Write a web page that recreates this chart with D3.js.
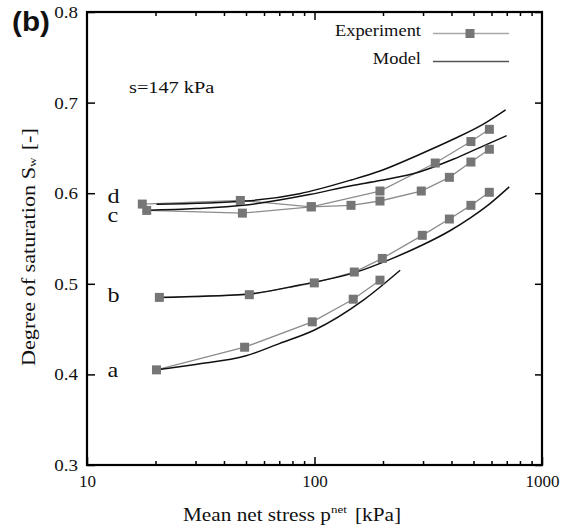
<!DOCTYPE html>
<html>
<head>
<meta charset="utf-8">
<script src="https://cdn.jsdelivr.net/npm/d3@7/dist/d3.min.js"></script>
<style>
body { margin: 0; background: #fff; }
svg { display: block; }
text { font-family: "Liberation Serif", "Times New Roman", serif; fill: #111; }
</style>
</head>
<body>
<div id="chart"></div>
<script>
// data: [p_net (kPa), S_w]
var expA = [[20.2, 0.405], [49.3, 0.430], [97.8, 0.458], [148, 0.483], [194, 0.504]];
var expB = [[20.8, 0.485], [51.7, 0.488], [99.8, 0.501], [149.6, 0.513], [198.6, 0.528],
            [297.7, 0.5535], [391.6, 0.5715], [487, 0.5866], [586.6, 0.601]];
var expC = [[18.3, 0.581], [48.2, 0.578], [96.8, 0.585], [144.7, 0.5866], [194, 0.5914],
            [294.6, 0.6024], [391.6, 0.6175], [487, 0.6344], [587, 0.6485]];
var expD = [[17.5, 0.588], [47.2, 0.592], [96.8, 0.585], [194, 0.6024], [339.5, 0.6333],
            [487, 0.657], [587, 0.6705]];

var modelA = [[20.2, 0.405], [30, 0.411], [50, 0.4205], [70, 0.434], [100, 0.449], [164, 0.482], [238, 0.515]];
var modelB = [[20.8, 0.485], [50, 0.4885], [86, 0.4987], [150, 0.5123], [215, 0.527], [298, 0.5428],
              [392, 0.5583], [488, 0.5734], [587, 0.588], [718, 0.607]];
var modelC = [[18.3, 0.581], [30, 0.583], [50, 0.587], [95, 0.5985], [145, 0.6083], [194, 0.614],
              [291, 0.6237], [407, 0.6374], [550, 0.652], [699, 0.6635]];
var modelD = [[20.2, 0.5877], [50, 0.5914], [86, 0.5995], [145, 0.6146], [194, 0.6245], [291, 0.643],
              [407, 0.6595], [550, 0.676], [692, 0.692]];

var curveLabels = [["d", 0.589], ["c", 0.568], ["b", 0.480], ["a", 0.397]];

var xMajor = [10, 100, 1000];
var xMinor = [20, 30, 40, 50, 60, 70, 80, 90, 200, 300, 400, 500, 600, 700, 800, 900];
var yMajor = [0.3, 0.4, 0.5, 0.6, 0.7, 0.8];

var serif = "'Liberation Serif', 'Times New Roman', serif";

var W = 575, H = 530;
var margin = {top: 12, right: 33, bottom: 65, left: 87},
    width_g = W - margin.left - margin.right,
    height_g = H - margin.top - margin.bottom;

var x = d3.scaleLog().domain([10, 1000]).range([0, width_g]);
var y = d3.scaleLinear().domain([0.3, 0.8]).range([height_g, 0]);

var svg = d3.select("#chart").append("svg")
    .attr("width", W)
    .attr("height", H);

var frg = svg.append("g")
    .attr("transform", "translate(" + margin.left + "," + margin.top + ")");

// axes (ticks point inward)
function styleAxis(g) {
    g.attr("font-family", serif);
    g.select(".domain").remove();
    g.selectAll("line").attr("stroke", "#000").attr("stroke-width", 1.5);
    g.selectAll("text").style("fill", "#111");
}

frg.append("g").attr("transform", "translate(0," + height_g + ")")
    .call(d3.axisBottom(x).tickValues(xMinor).tickSizeInner(-4).tickSizeOuter(0).tickFormat(""))
    .call(styleAxis);
frg.append("g").attr("transform", "translate(0," + height_g + ")")
    .call(d3.axisBottom(x).tickValues(xMajor).tickSizeInner(-8).tickSizeOuter(0)
        .tickPadding(10).tickFormat(d3.format("d")))
    .call(styleAxis)
    .attr("font-size", 17);

frg.append("g")
    .call(d3.axisTop(x).tickValues(xMinor).tickSizeInner(-4).tickSizeOuter(0).tickFormat(""))
    .call(styleAxis);
frg.append("g")
    .call(d3.axisTop(x).tickValues([100]).tickSizeInner(-8).tickSizeOuter(0).tickFormat(""))
    .call(styleAxis);

var yAxisG = frg.append("g")
    .call(d3.axisLeft(y).tickValues(yMajor).tickSizeInner(-8).tickSizeOuter(0)
        .tickPadding(8).tickFormat(d3.format(".1f")))
    .call(styleAxis)
    .attr("font-size", 17);
yAxisG.selectAll(".tick text").attr("transform", "scale(1.12,1)");

frg.append("g").attr("transform", "translate(" + width_g + ",0)")
    .call(d3.axisRight(y).tickValues(yMajor).tickSizeInner(-7).tickSizeOuter(0).tickFormat(""))
    .call(styleAxis);

frg.append("rect")
    .attr("width", width_g)
    .attr("height", height_g)
    .attr("fill", "none")
    .attr("stroke", "#000")
    .attr("stroke-width", 2.2);

// lines
var modelLine = d3.line()
    .x(function (d) { return x(d[0]); })
    .y(function (d) { return y(d[1]); })
    .curve(d3.curveMonotoneX);
var expLine = d3.line()
    .x(function (d) { return x(d[0]); })
    .y(function (d) { return y(d[1]); });

var expSeries = [expA, expB, expC, expD];
var modelSeries = [modelA, modelB, modelC, modelD];

frg.append("g").selectAll("path")
    .data(expSeries)
    .enter().append("path")
    .attr("d", expLine)
    .attr("fill", "none")
    .attr("stroke", "#8c8c8c")
    .attr("stroke-width", 1.3);

frg.append("g").selectAll("path")
    .data(modelSeries)
    .enter().append("path")
    .attr("d", modelLine)
    .attr("fill", "none")
    .attr("stroke", "#111")
    .attr("stroke-width", 1.5);

var ms = 9;
frg.append("g").selectAll("g")
    .data(expSeries)
    .enter().append("g")
    .selectAll("rect")
    .data(function (d) { return d; })
    .enter().append("rect")
    .attr("x", function (d) { return x(d[0]) - ms / 2; })
    .attr("y", function (d) { return y(d[1]) - ms / 2; })
    .attr("width", ms)
    .attr("height", ms)
    .attr("fill", "#767676");

// curve labels a-d
frg.append("g").selectAll("text")
    .data(curveLabels)
    .enter().append("text")
    .attr("transform", function (d) {
        return "translate(" + x(12.3) + "," + y(d[1]) + ") scale(1.15,1)";
    })
    .attr("font-size", 21)
    .text(function (d) { return d[0]; });

// annotation
svg.append("text")
    .attr("transform", "translate(129,93) scale(1.16,1)")
    .attr("font-size", 17.5)
    .text("s=147 kPa");

// legend
var leg = svg.append("g");
leg.append("text").attr("transform", "translate(421,36) scale(1.12,1)")
    .attr("text-anchor", "end").attr("font-size", 16.5).text("Experiment");
leg.append("text").attr("transform", "translate(421,64) scale(1.12,1)")
    .attr("text-anchor", "end").attr("font-size", 16.5).text("Model");
leg.append("line").attr("x1", 433).attr("x2", 509).attr("y1", 33.5).attr("y2", 33.5)
    .attr("stroke", "#a8a8a8").attr("stroke-width", 1.3);
leg.append("rect").attr("x", 470 - ms / 2).attr("y", 33.5 - ms / 2)
    .attr("width", ms).attr("height", ms).attr("fill", "#767676");
leg.append("line").attr("x1", 433).attr("x2", 509).attr("y1", 61.5).attr("y2", 61.5)
    .attr("stroke", "#555").attr("stroke-width", 1.4);

// panel tag
svg.append("text")
    .attr("transform", "translate(12,31) scale(1.1,1)")
    .style("font-family", "'Liberation Sans', Arial, sans-serif")
    .attr("font-weight", "bold")
    .attr("font-size", 27)
    .text("(b)");

// x axis title
var xt = svg.append("text")
    .attr("transform", "translate(183,521) scale(1.18,1)")
    .attr("font-size", 18);
xt.append("tspan").text("Mean net stress p");
xt.append("tspan").attr("dy", -8).attr("font-size", 11).text("net");
xt.append("tspan").attr("dy", 8).attr("dx", 7).text("[kPa]");

// y axis title
var yt = svg.append("text")
    .attr("transform", "translate(35,366) rotate(-90) scale(1.2,1)")
    .attr("font-size", 18.5);
yt.append("tspan").text("Degree of saturation S");
yt.append("tspan").attr("dy", 1).attr("font-size", 11).text("w");
yt.append("tspan").attr("dy", -1).attr("dx", 6).text("[-]");
</script>
</body>
</html>
